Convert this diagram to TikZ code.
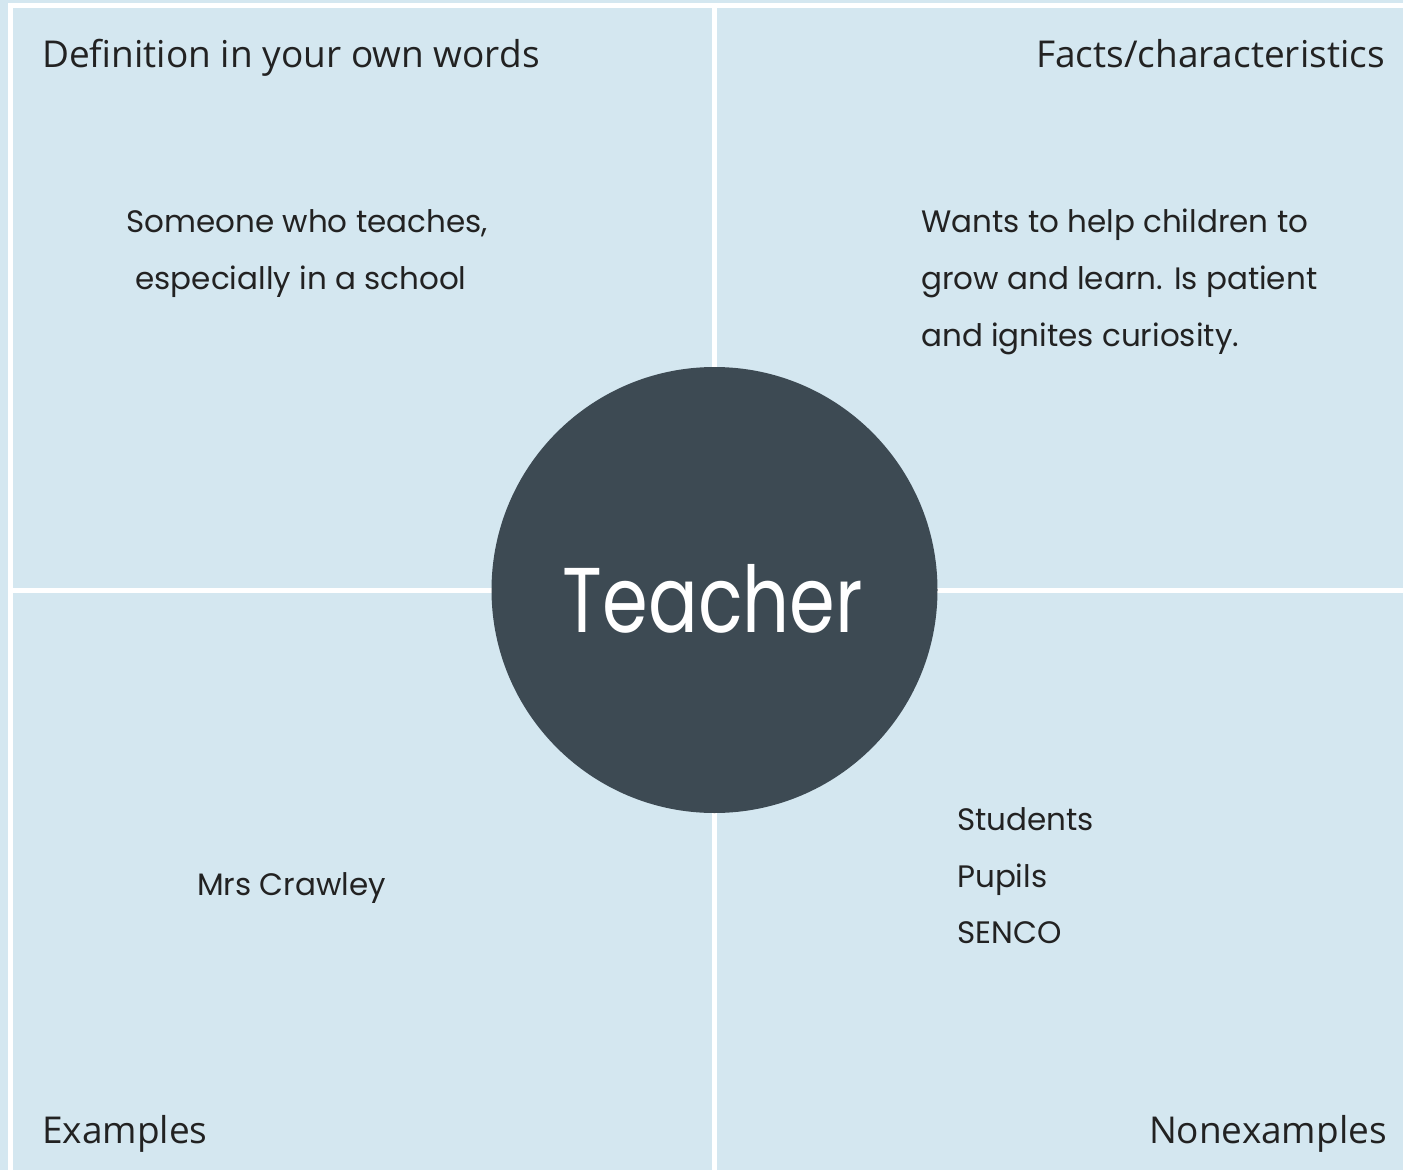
\documentclass[tikz,border=0pt]{standalone}
\usepackage{fontspec}
\setmainfont{Open Sans}
\newfontfamily\handfont{Poppins}
\newfontfamily\titlefont[FakeStretch=0.8]{Poppins}
\definecolor{bgblue}{HTML}{D4E7F0}
\definecolor{slate}{HTML}{3D4A53}
\definecolor{ink}{HTML}{222222}
\tikzset{
  heading/.style={font=\fontsize{37}{40}\selectfont, text=ink, inner sep=0pt},
  hand/.style={font=\handfont\fontsize{31}{57}\selectfont, text=ink, inner sep=0pt}
}
\begin{document}
\begin{tikzpicture}[x=1pt,y=-1pt]
\useasboundingbox (0,0) rectangle (1403,1170);
\fill[bgblue] (0,0) rectangle (1403,1170);
% white frame and dividers
\fill[white] (8,3) rectangle (1403,8);
\fill[white] (8,3) rectangle (13,1170);
\fill[white] (712,3) rectangle (717,1170);
\fill[white] (8,588) rectangle (1403,593);
% centre circle
\node[circle, fill=slate, minimum size=446pt, inner sep=0pt] (core) at (714.5,590) {};
\node[font=\titlefont\fontsize{92}{100}\selectfont, text=white, anchor=base, inner sep=0pt] (word) at (713,632) {Teacher};
% headings
\node[heading, anchor=base west] (h1) at (42,67) {Definition in your own words};
\node[heading, anchor=base east] (h2) at (1385,67) {Facts/characteristics};
\node[heading, anchor=base west] (h3) at (42,1143) {Examples};
\node[heading, anchor=base east] (h4) at (1387,1143) {Nonexamples};
% contents
\node[hand, anchor=base] (d1) at (307,232) {Someone who teaches,};
\node[hand, anchor=base] (d2) at (301,289) {especially in a school};
\node[hand, anchor=base west] (f1) at (921,232) {Wants to help children to};
\node[hand, anchor=base west] (f2) at (921,289) {grow and learn. Is patient};
\node[hand, anchor=base west] (f3) at (921,346) {and ignites curiosity.};
\node[hand, anchor=base west] (e1) at (197,895) {Mrs Crawley};
\node[hand, anchor=base west] (n1) at (957,830) {Students};
\node[hand, anchor=base west] (n2) at (957,887) {Pupils};
\node[hand, anchor=base west] (n3) at (957,943) {SENCO};
\end{tikzpicture}
\end{document}
